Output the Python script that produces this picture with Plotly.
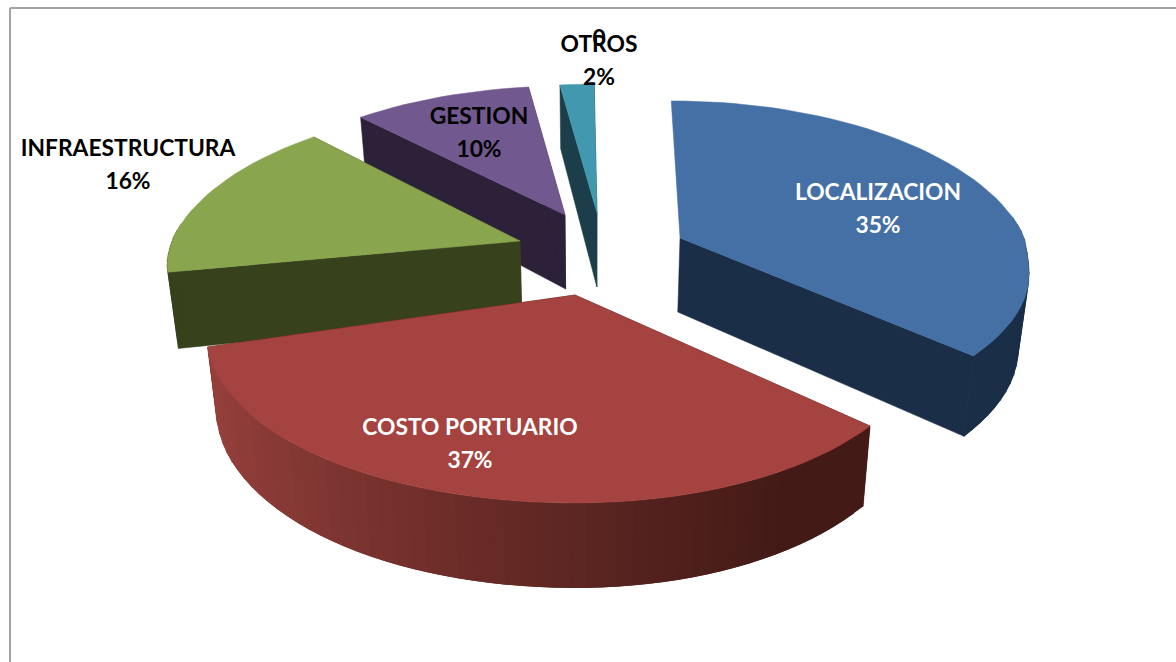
import math
import plotly.graph_objects as go

# Data
categories = ["LOCALIZACION", "COSTO PORTUARIO", "INFRAESTRUCTURA", "GESTION", "OTROS"]
shares = [35, 37, 16, 10, 2]
value_labels = ["35%", "37%", "16%", "10%", "2%"]
stray_label = "0"

# Styles
top_colors = ["#4470a6", "#a54341", "#89a54e", "#71588f", "#4198af"]
wall_colors = ["#1a2e47", "#431a16", "#37421c", "#2c2138", "#1b3e4a"]
pull_dx = [90, -15, -70, -25, 7]
pull_dy = [-2, 55, 1, -25, -27]
radius_scale = [1.0, 1.0, 1.0, 0.93, 0.93]
right_rx = [362, 364, 355, 355, 355]
left_rx = [355, 382, 366, 382, 367]
near_scale = [0.9, 1.0, 0.6, 1.0, 1.0]
text_colors = ["white", "white", "black", "black", "black"]
name_pos = [(878, 194), (470, 429), (128, 150), (479, 118), (599, 46)]
value_pos = [(878, 227), (470, 462), (128, 183), (479, 151), (599, 79)]

# Tilted-pie projection
CX, CY, VX = 590, 240, 590
K, PD = 788, 4.75
START_DEG = -0.5


def project(i, a_deg, r=1.0, low=False):
    t = math.radians(a_deg)
    lx = r * radius_scale[i] * math.sin(t)
    ly = r * radius_scale[i] * math.cos(t)
    ax = CX + pull_dx[i]
    ay = CY + pull_dy[i]
    rx = right_rx[i] if lx >= 0 else left_rx[i]
    u = ly + 0.2
    soft = 0.5 * (u + math.sqrt(u * u + 0.03)) - 0.5 * (0.2 + math.sqrt(0.04 + 0.03)) * (1 - r)
    sx = ax + rx * lx / (1 + 0.22 * soft) - (ax - VX) * 0.07 * max(ly, 0)
    if ly >= 0:
        sy = ay - K * ly / (PD + ly)
    else:
        sy = ay + 208 * near_scale[i] * abs(ly) ** 0.85
    if low:
        sy += 74 - 11 * ly
        sx -= (sx - VX) * 0.025
    return sx, sy


def mix(c1, c2, t):
    a = [int(c1[i:i + 2], 16) for i in (1, 3, 5)]
    b = [int(c2[i:i + 2], 16) for i in (1, 3, 5)]
    return "rgb(%d,%d,%d)" % tuple(round(p + (q - p) * t) for p, q in zip(a, b))


fig = go.Figure()


def poly(points, color, lw=0.5):
    xs = [p[0] for p in points] + [points[0][0]]
    ys = [p[1] for p in points] + [points[0][1]]
    fig.add_trace(go.Scatter(x=xs, y=ys, mode="lines", fill="toself", fillcolor=color,
                             line=dict(color=color, width=lw), hoverinfo="skip", showlegend=False))


bounds = []
acc = START_DEG
for s in shares:
    bounds.append((acc, acc + s * 3.6))
    acc += s * 3.6

for i in [4, 3, 2, 0, 1]:  # back to front
    a0, a1 = bounds[i]
    n = max(8, int((a1 - a0) / 2.5))
    angs = [a0 + (a1 - a0) * k / n for k in range(n + 1)]
    # radial walls
    for a_end in (a0, a1):
        if i == 0 and a_end == a0:
            continue
        poly([project(i, a_end, 0), project(i, a_end), project(i, a_end, low=True), project(i, a_end, 0, low=True)],
             wall_colors[i])
    # outer wall (front-facing part only)
    for k in range(n):
        hi = min(k + 2, n)
        p, q = angs[k], angs[hi]
        if math.cos(math.radians(angs[k])) > 0.05 and math.cos(math.radians(angs[hi])) > 0.05:
            continue
        quad = [project(i, p), project(i, q), project(i, q, low=True), project(i, p, low=True)]
        if i == 1:
            sx = project(i, (angs[k] + angs[k + 1]) / 2)[0]
            t = max(0.0, min(1.0, (sx - 208) / (790 - 208)))
            poly(quad, mix("#96403c", "#431a16", t ** 0.8), 0)
        else:
            poly(quad, wall_colors[i], 0.5)
    # top face
    poly([project(i, a0, 0)] + [project(i, a) for a in angs], top_colors[i])

# Labels
for i, c in enumerate(categories):
    for pos, s in ((name_pos[i], c), (value_pos[i], value_labels[i])):
        fig.add_trace(go.Scatter(
            x=[pos[0]], y=[pos[1]], mode="text", text=["<b>%s</b>" % s],
            textposition="middle center",
            textfont=dict(family="Lato", size=22.8, color=text_colors[i]),
            hoverinfo="skip", showlegend=False))
fig.add_trace(go.Scatter(x=[599], y=[40], mode="text", text=["<b>%s</b>" % stray_label],
                         textposition="middle center",
                         textfont=dict(family="Lato", size=22.8, color="black"),
                         hoverinfo="skip", showlegend=False))

fig.update_layout(
    width=1176, height=662, margin=dict(l=0, r=0, t=0, b=0),
    paper_bgcolor="white", plot_bgcolor="white", showlegend=False,
    xaxis=dict(range=[0, 1176], visible=False, fixedrange=True),
    yaxis=dict(range=[662, 0], visible=False, fixedrange=True),
    shapes=[
        dict(type="line", xref="x", yref="y", x0=10, y0=8, x1=1176, y1=8, line=dict(color="#a3a3a3", width=2)),
        dict(type="line", xref="x", yref="y", x0=10, y0=8, x1=10, y1=662, line=dict(color="#a3a3a3", width=2)),
    ],
)
fig.write_html("out.html", config=dict(displayModeBar=False),
               post_script="document.body.style.margin='0';document.body.style.overflow='hidden';")
